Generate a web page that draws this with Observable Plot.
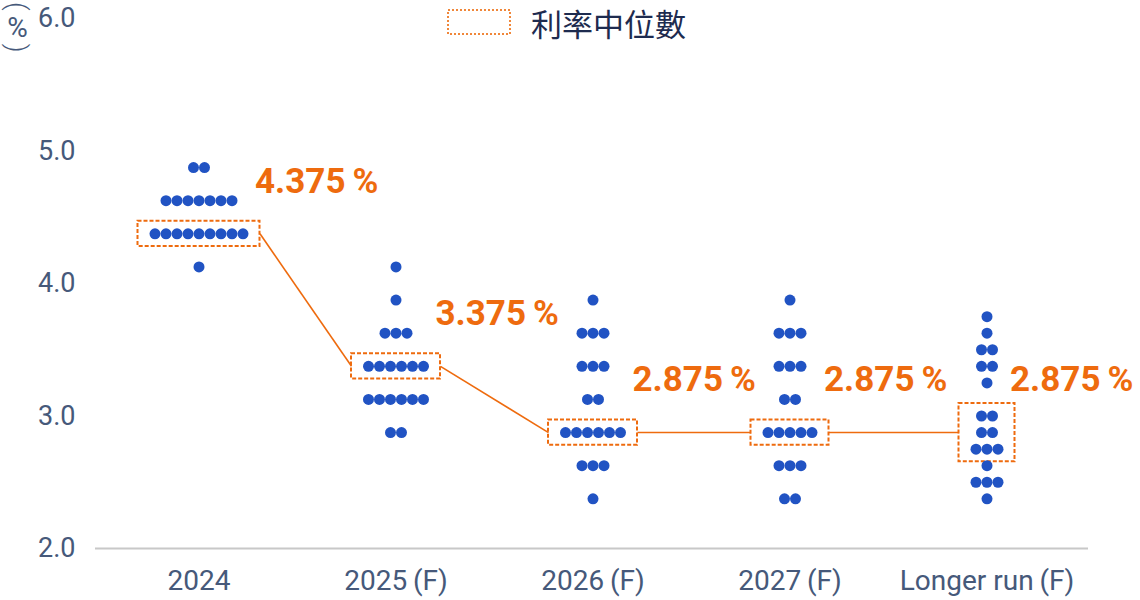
<!DOCTYPE html>
<html>
<head>
<meta charset="utf-8">
<script src="https://cdn.jsdelivr.net/npm/d3@7"></script>
<script src="https://cdn.jsdelivr.net/npm/@observablehq/plot@0.6"></script>
<style>
  body { margin: 0; background: #fff; font-family: Roboto, "Noto Sans CJK TC", sans-serif; }
  #wrap { position: relative; width: 1140px; height: 600px; overflow: hidden; }
  #unit { position: absolute; left: 3px; top: 2px; writing-mode: vertical-rl; font-family: Roboto, sans-serif;
          font-size: 27px; line-height: 1; color: #46597a; font-weight: 300; }
  #unit .u { text-orientation: upright; font-weight: 400; font-size: 28px; }
  #legend { position: absolute; left: 446px; top: 7px; display: flex; align-items: center; height: 30px; }
  #legend .txt { margin-left: 19px; font-family: "Noto Sans CJK TC", sans-serif; font-size: 31px; color: #1e2b4f; line-height: 1; }
</style>
</head>
<body>
<div id="wrap">
  <div id="chart"></div>
  <div id="unit">(<span class="u">%</span>)</div>
  <div id="legend">
    <svg width="66" height="28"><rect x="2" y="2" width="62" height="24" fill="none" stroke="#f0873a" stroke-width="2" stroke-dasharray="2,2"></rect></svg>
    <span class="txt">利率中位數</span>
  </div>
</div>
<script>
// ---- data ----
const categories = ["2024", "2025\u2009(F)", "2026\u2009(F)", "2027\u2009(F)", "Longer run\u2009(F)"];

const rates2024 = [4.875, 4.625, 4.375, 4.125];
const counts2024 = [2, 7, 9, 1];

const rates2025 = [4.125, 3.875, 3.625, 3.375, 3.125, 2.875];
const counts2025 = [1, 1, 3, 6, 6, 2];

const rates2026 = [3.875, 3.625, 3.375, 3.125, 2.875, 2.625, 2.375];
const counts2026 = [1, 3, 3, 2, 6, 3, 1];

const rates2027 = [3.875, 3.625, 3.375, 3.125, 2.875, 2.625, 2.375];
const counts2027 = [1, 3, 3, 2, 5, 3, 2];

const ratesLonger = [3.75, 3.625, 3.5, 3.375, 3.25, 3.0, 2.875, 2.75, 2.625, 2.5, 2.375];
const countsLonger = [1, 1, 2, 2, 1, 2, 2, 3, 1, 3, 1];

const medians = [4.375, 3.375, 2.875, 2.875, 2.875];
const medianBoxRows = [[4.375], [3.375], [2.875], [2.875], [3.0, 2.875, 2.75]];

// ---- layout constants ----
const orange = "#ee6b0e";
const blue = "#2153c3";
const unitPx = 197;          // px per category
const dotStep = 11 / unitPx;  // horizontal dot spacing in x units
const boxPadX = 17 / unitPx;
const boxPadY = 0.095;
const labelRise = 0.395;

const allRates = [rates2024, rates2025, rates2026, rates2027, ratesLonger];
const allCounts = [counts2024, counts2025, counts2026, counts2027, countsLonger];

const dots = [];
allRates.forEach((rates, i) => {
  rates.forEach((r, j) => {
    const n = allCounts[i][j];
    for (let k = 0; k < n; k++) dots.push({x: i + (k - (n - 1) / 2) * dotStep, y: r});
  });
});

const boxes = medianBoxRows.map((rows, i) => {
  const n = d3.max(rows, r => allCounts[i][allRates[i].indexOf(r)]);
  const hw = ((n - 1) / 2) * dotStep + boxPadX;
  return {i, x1: i - hw, x2: i + hw, y1: d3.min(rows) - boxPadY, y2: d3.max(rows) + boxPadY, hw};
});

const links = d3.range(medians.length - 1).map(i => ({
  x1: i + boxes[i].hw, y1: medians[i], x2: i + 1 - boxes[i + 1].hw, y2: medians[i + 1]
}));

const labels = medians.map((m, i) => ({
  x: i + boxes[i].hw, y: m + labelRise, text: d3.format(".3f")(m) + "\u2009%"
}));

const chart = Plot.plot({
  width: 1140,
  height: 600,
  marginLeft: 100,
  marginRight: 55,
  marginTop: 18,
  marginBottom: 52,
  style: {fontFamily: "Roboto, sans-serif", fontSize: "27px", color: "#46597a", background: "#fff"},
  x: {domain: [-0.5, 4.5], axis: null},
  y: {domain: [2, 6], axis: null},
  marks: [
    Plot.ruleY([2], {stroke: "#c8c8c8", strokeWidth: 2, insetLeft: -5, insetRight: -3}),
    Plot.axisY([2, 3, 4, 5, 6], {tickFormat: d3.format(".1f"), tickSize: 0, tickPadding: 25, label: null, fontSize: 27, fill: "#46597a"}),
    Plot.axisX(d3.range(categories.length), {tickFormat: i => categories[i], tickSize: 0, tickPadding: 22, label: null, fontSize: 28, fill: "#46597a"}),
    Plot.link(links, {x1: "x1", y1: "y1", x2: "x2", y2: "y2", stroke: orange, strokeWidth: 1.6}),
    Plot.rect(boxes, {x1: "x1", x2: "x2", y1: "y1", y2: "y2", fill: "none", stroke: orange, strokeWidth: 2, strokeDasharray: "4,2"}),
    Plot.dot(dots, {x: "x", y: "y", r: 5.5, fill: blue, stroke: "none"}),
    Plot.text(labels, {x: "x", y: "y", text: "text", textAnchor: "start", dx: -5, fill: orange, fontSize: 35, fontWeight: "bold"})
  ]
});
document.getElementById("chart").appendChild(chart);
</script>
</body>
</html>
